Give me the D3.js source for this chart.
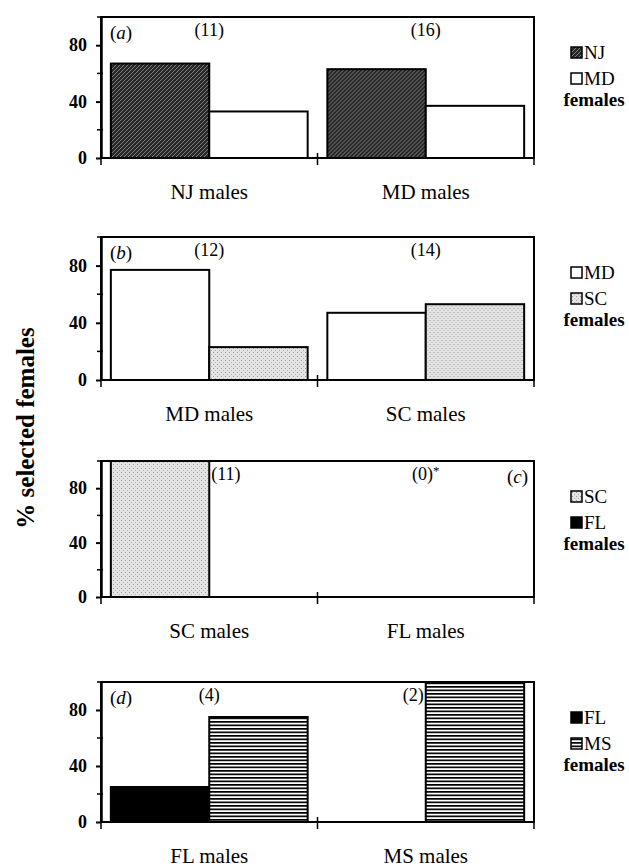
<!DOCTYPE html>
<meta charset="utf-8">
<style>
    body { margin: 0; background: #ffffff; }
    svg { display: block; font-family: "Liberation Serif", "Times New Roman", serif; }
    text { font-family: "Liberation Serif", "Times New Roman", serif; fill: #000000; }
    .tick text { font-size: 18px; font-weight: bold; }
    .tick line, .domain { stroke: #000000; stroke-width: 2px; }
    .frame { fill: none; stroke: #000000; stroke-width: 2px; }
    .bar { stroke: #000000; stroke-width: 2px; }
    .catlabel { font-size: 21px; }
    .nlabel { font-size: 18px; }
    .letter { font-size: 19px; font-style: italic; }
    .legend text { font-size: 19px; }
    .legend .title { font-weight: bold; }
</style>
<svg width="629" height="868"></svg>
<script src="https://d3js.org/d3.v7.min.js"></script>
<script>

    // data
    var maleGroups = [["NJ males", "MD males"], ["MD males", "SC males"], ["SC males", "FL males"], ["FL males", "MS males"]];
    var femaleGroups = [["NJ", "MD"], ["MD", "SC"], ["SC", "FL"], ["FL", "MS"]];
    var percentSelected = [
        [[67, 33], [63, 37]],
        [[77, 23], [47, 53]],
        [[100, 0], [0, 0]],
        [[25, 75], [0, 100]]
    ];
    var sampleSizes = [[11, 16], [12, 14], [11, 0], [4, 2]];
    var starred = [[false, false], [false, false], [false, true], [false, false]];
    var panelLetters = ["a", "b", "c", "d"];
    var yTicks = [0, 40, 80];
    var yMinorTicks = [20, 60, 100];

    var svg = d3.select("svg");

    var left = 101, right = 534;
    var panelTops = [17, 237, 461, 682],
        panelBottoms = [158, 380, 597, 822];

    // fills for each female population
    var defs = svg.append("defs");

    var hatch = defs.append("pattern").attr("id", "hatch")
        .attr("patternUnits", "userSpaceOnUse").attr("width", 4).attr("height", 4);
    hatch.append("rect").attr("width", 4).attr("height", 4).attr("fill", "#262626");
    hatch.append("path").attr("d", "M-1,1 l2,-2 M0,4 l4,-4 M3,5 l2,-2")
        .attr("stroke", "#8c8c8c").attr("stroke-width", 0.9);

    var dots = defs.append("pattern").attr("id", "dots")
        .attr("patternUnits", "userSpaceOnUse").attr("width", 4).attr("height", 4);
    dots.append("rect").attr("width", 4).attr("height", 4).attr("fill", "#e4e4e4");
    dots.append("rect").attr("x", 0).attr("y", 0).attr("width", 1).attr("height", 1).attr("fill", "#9a9a9a");
    dots.append("rect").attr("x", 2).attr("y", 2).attr("width", 1).attr("height", 1).attr("fill", "#b0b0b0");

    var hlines = defs.append("pattern").attr("id", "hlines")
        .attr("patternUnits", "userSpaceOnUse").attr("width", 4).attr("height", 3.5);
    hlines.append("rect").attr("width", 4).attr("height", 3.5).attr("fill", "#ffffff");
    hlines.append("rect").attr("width", 4).attr("height", 1.7).attr("fill", "#000000");

    var fills = {NJ: "url(#hatch)", MD: "#ffffff", SC: "url(#dots)", FL: "#000000", MS: "url(#hlines)"};

    // y axis title
    svg.append("text")
        .attr("transform", "translate(34,428) rotate(-90)")
        .attr("text-anchor", "middle")
        .style("font-size", "25px")
        .style("font-weight", "bold")
        .text("% selected females");

    panelLetters.forEach(function (letter, p) {
        var top = panelTops[p], bottom = panelBottoms[p];
        var g = svg.append("g");

        var x0 = d3.scaleBand()
            .domain(maleGroups[p])
            .range([left, right])
            .paddingInner(0)
            .paddingOuter(0);

        var x1 = d3.scaleBand()
            .domain(femaleGroups[p])
            .range([0, x0.bandwidth()])
            .paddingOuter(0.1)
            .paddingInner(0);

        var y = d3.scaleLinear().domain([0, 100]).range([bottom, top]);

        // bars
        maleGroups[p].forEach(function (male, i) {
            var values = percentSelected[p][i].map(function (v, j) {
                return {female: femaleGroups[p][j], value: v};
            });
            g.append("g")
                .attr("transform", "translate(" + x0(male) + ",0)")
                .selectAll("rect")
                .data(values.filter(function (d) { return d.value > 0; }))
                .enter().append("rect")
                .attr("class", "bar")
                .attr("x", function (d) { return x1(d.female); })
                .attr("y", function (d) { return y(d.value); })
                .attr("width", x1.bandwidth())
                .attr("height", function (d) { return y(0) - y(d.value); })
                .attr("fill", function (d) { return fills[d.female]; });
        });

        // frame
        g.append("rect")
            .attr("class", "frame")
            .attr("x", left).attr("y", top)
            .attr("width", right - left).attr("height", bottom - top);

        // y axis
        var yAxis = g.append("g")
            .attr("transform", "translate(" + left + ",0)")
            .call(d3.axisLeft(y).tickValues(yTicks).tickSize(5).tickPadding(9).tickSizeOuter(0));
        yAxis.attr("font-family", null).attr("font-size", null);
        yAxis.select(".domain").style("stroke-width", "2.5px");

        g.selectAll(".minor")
            .data(yMinorTicks)
            .enter().append("line")
            .attr("x1", left - 4).attr("x2", left + 2)
            .attr("y1", function (d) { return y(d); })
            .attr("y2", function (d) { return y(d); })
            .attr("stroke", "#000").attr("stroke-width", 1.5);

        // x ticks at category boundaries
        var bounds = [left, x0(maleGroups[p][1]), right];
        g.selectAll(".xtick")
            .data(bounds)
            .enter().append("line")
            .attr("x1", function (d) { return d; }).attr("x2", function (d) { return d; })
            .attr("y1", function (d, i) { return i === 1 ? bottom - 5 : bottom; })
            .attr("y2", bottom + 7)
            .attr("stroke", "#000").attr("stroke-width", 1.5);

        // category labels
        g.selectAll(".catlabel")
            .data(maleGroups[p])
            .enter().append("text")
            .attr("class", "catlabel")
            .attr("x", function (d) { return x0(d) + x0.bandwidth() / 2; })
            .attr("y", bottom + 41)
            .attr("text-anchor", "middle")
            .text(function (d) { return d; });

        // sample sizes: centred, or beside a bar that fills the panel
        maleGroups[p].forEach(function (male, i) {
            var vals = percentSelected[p][i];
            var cx = x0(male) + x0.bandwidth() / 2, anchor = "middle";
            if (vals[0] >= 95) {
                cx = x0(male) + x1(femaleGroups[p][0]) + x1.bandwidth() + 2;
                anchor = "start";
            } else if (vals[1] >= 95) {
                cx = x0(male) + x1(femaleGroups[p][1]) - 2;
                anchor = "end";
            }
            var t = g.append("text")
                .attr("class", "nlabel")
                .attr("x", cx)
                .attr("y", top + 19)
                .attr("text-anchor", anchor)
                .text("(" + sampleSizes[p][i] + ")");
            if (starred[p][i]) {
                t.append("tspan").attr("dy", -5).style("font-size", "13px").text("*");
            }
        });

        // panel letter, moved right when the left corner is covered
        var covered = percentSelected[p][0][0] >= 95;
        var lt = g.append("text")
            .attr("class", "letter")
            .attr("y", top + 22)
            .attr("x", covered ? right - 6 : left + 9)
            .attr("text-anchor", covered ? "end" : "start");
        lt.append("tspan").style("font-style", "normal").text("(");
        lt.append("tspan").text(letter);
        lt.append("tspan").style("font-style", "normal").text(")");

        // legend
        var legend = g.append("g").attr("class", "legend");
        var rowY = [top + 42, top + 68];
        femaleGroups[p].forEach(function (f, j) {
            legend.append("rect")
                .attr("x", 571).attr("y", rowY[j] - 12)
                .attr("width", 11).attr("height", 11)
                .attr("fill", fills[f])
                .attr("stroke", "#000").attr("stroke-width", 1.5);
            legend.append("text")
                .attr("x", 584).attr("y", rowY[j])
                .text(f);
        });
        legend.append("text")
            .attr("class", "title")
            .attr("x", 594).attr("y", top + 89)
            .attr("text-anchor", "middle")
            .text("females");
    });

</script>
